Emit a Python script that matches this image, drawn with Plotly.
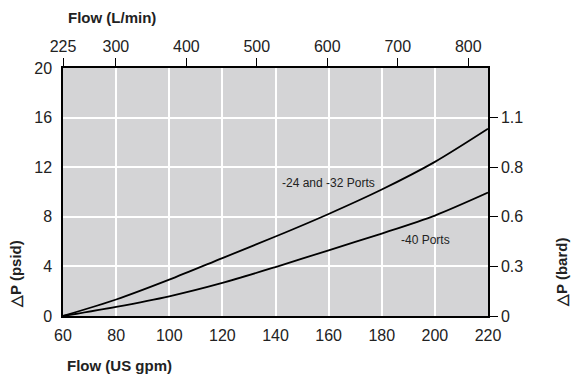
import plotly.graph_objects as go

# Data
flow_gpm = [60, 80, 100, 120, 140, 160, 180, 200, 220]
dp_24_32 = [0, 1.33, 2.93, 4.67, 6.41, 8.23, 10.2, 12.43, 15.1]
dp_40 = [0, 0.74, 1.59, 2.67, 3.95, 5.3, 6.65, 8.1, 9.95]

x_ticks = [60, 80, 100, 120, 140, 160, 180, 200, 220]
y_ticks = [0, 4, 8, 12, 16, 20]
top_ticks = [225, 300, 400, 500, 600, 700, 800]
top_range = [225, 828]
bar_tickvals = [0, 4, 8, 12, 16]
bar_ticktext = ["0", "0.3", "0.6", "0.8", "1.1"]

label_names = ["-24 and -32 Ports", "-40 Ports"]
label_x = [160.1, 196.3]
label_y = [10.73, 6.12]

NARROW = "Liberation Sans Narrow, Arial Narrow, Liberation Sans, Arial"
BOLD = "Liberation Sans, Arial"
tickfont = dict(family=NARROW, size=16, color="#222")

fig = go.Figure()
fig.add_trace(go.Scatter(x=flow_gpm, y=dp_24_32, mode="lines", line=dict(color="black", width=1.8, shape="spline", smoothing=0.8), showlegend=False, hoverinfo="skip"))
fig.add_trace(go.Scatter(x=flow_gpm, y=dp_40, mode="lines", line=dict(color="black", width=1.8, shape="spline", smoothing=0.8), showlegend=False, hoverinfo="skip"))
# invisible trace to activate secondary axes
fig.add_trace(go.Scatter(x=top_range, y=[0, 0], xaxis="x2", yaxis="y2", mode="markers", marker=dict(opacity=0), showlegend=False, hoverinfo="skip"))

for n, xx, yy in zip(label_names, label_x, label_y):
    fig.add_annotation(x=xx, y=yy, text=n, showarrow=False, font=dict(family=NARROW, size=12, color="#222"))

fig.update_layout(
    width=574, height=383,
    margin=dict(l=63, r=86, t=68, b=67),
    paper_bgcolor="white",
    plot_bgcolor="#d4d4d6",
    xaxis=dict(range=[60, 220], tickvals=x_ticks, showgrid=True, gridcolor="white", gridwidth=1.5,
               showline=True, linecolor="black", linewidth=1.5, ticks="", tickfont=tickfont, zeroline=False,
               ticklabelstandoff=4),
    yaxis=dict(range=[0, 20], tickvals=y_ticks, showgrid=True, gridcolor="white", gridwidth=1.5,
               showline=True, linecolor="black", linewidth=1.5, ticks="", tickfont=tickfont, zeroline=False,
               ticklabelstandoff=6),
    xaxis2=dict(range=top_range, tickvals=top_ticks, overlaying="x", side="top", showgrid=False,
                showline=True, linecolor="black", linewidth=1.5, ticks="outside", ticklen=8, tickcolor="black",
                tickwidth=1.2, tickfont=tickfont, zeroline=False),
    yaxis2=dict(range=[0, 20], tickvals=bar_tickvals, ticktext=bar_ticktext, overlaying="y", side="right",
                showgrid=False, showline=True, linecolor="black", linewidth=1.5, ticks="outside", ticklen=8,
                tickcolor="black", tickwidth=1.2, tickfont=tickfont, zeroline=False),
)

title_font = dict(family=BOLD, size=15, color="#222")
fig.add_annotation(xref="paper", yref="paper", x=(66 - 63) / 425, y=(316 - 17) / 248, xanchor="left", yanchor="middle",
                   text="<b>Flow (L/min)</b>", showarrow=False, font=title_font)
fig.add_annotation(xref="paper", yref="paper", x=(65 - 63) / 425, y=(316 - 365) / 248, xanchor="left", yanchor="middle",
                   text="<b>Flow (US gpm)</b>", showarrow=False, font=title_font)
fig.add_annotation(xref="paper", yref="paper", x=(15 - 63) / 425, y=(316 - 274) / 248, xanchor="center", yanchor="middle",
                   text="<b>△P (psid)</b>", textangle=-90, showarrow=False, font=title_font)
fig.add_annotation(xref="paper", yref="paper", x=(561 - 63) / 425, y=(316 - 273) / 248, xanchor="center", yanchor="middle",
                   text="<b>△P (bard)</b>", textangle=-90, showarrow=False, font=title_font)

fig.write_html("out.html")
